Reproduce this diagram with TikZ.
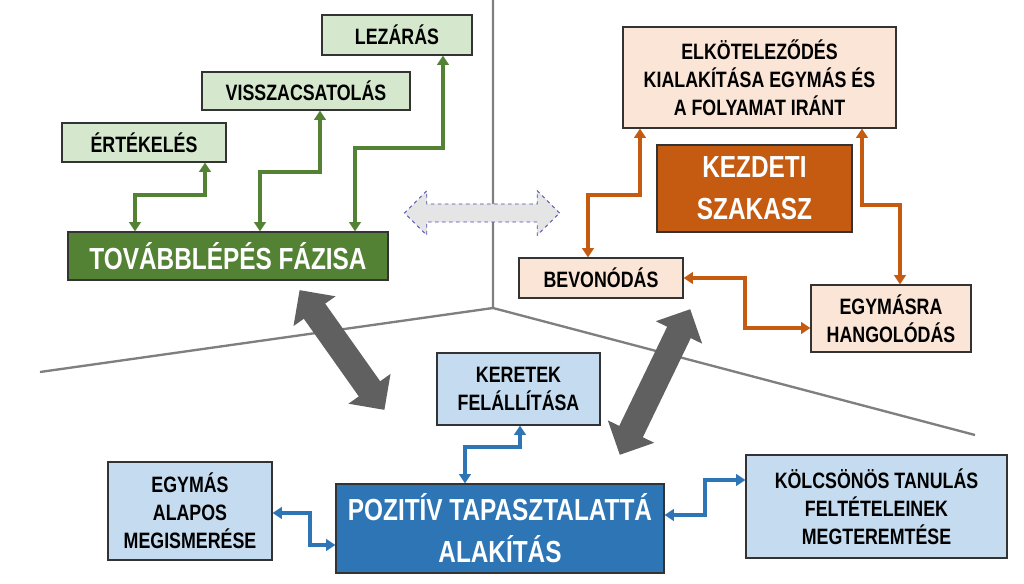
\documentclass[tikz,border=0pt]{standalone}
\usepackage{fontspec}
\setmainfont{Liberation Sans}[FakeStretch=0.8]
\usetikzlibrary{arrows.meta,shapes.arrows}
\definecolor{lgreen}{HTML}{D5E8CD}
\definecolor{dgreen}{HTML}{548235}
\definecolor{lpeach}{HTML}{FBE5D6}
\definecolor{dorange}{HTML}{C55A11}
\definecolor{lblue}{HTML}{C5DCF0}
\definecolor{dblue}{HTML}{2E75B6}
\definecolor{linegray}{HTML}{7F7F7F}
\begin{document}
\begin{tikzpicture}[
      x=0.03cm, y=-0.03cm,
      base/.style={draw=black!80,line width=1pt,align=center,inner sep=2pt,
                   font=\fontsize{19}{24}\selectfont\bfseries},
      gbox/.style={base,fill=lgreen},
      obox/.style={base,fill=lpeach},
      bbox/.style={base,fill=lblue},
      hbox/.style={base,text=white,font=\fontsize{26}{36}\selectfont\bfseries},
      conn/.style={line width=3pt,{Triangle[length=8pt,width=10pt]}-{Triangle[length=8pt,width=10pt]}},
      garr/.style={conn,dgreen},
      oarr/.style={conn,dorange},
      barr/.style={conn,dblue},
      bigarrow/.style={double arrow,fill=gray!75!black,draw=none,minimum width=44pt,
                       double arrow head extend=6pt,inner sep=6pt}
    ]
    \useasboundingbox (0,0) rectangle (1024,584);

    % dividing lines
    \coordinate (mid) at (493,308);
    \draw[linegray,line width=2pt] (493,0) -- (mid) -- (40,372);
    \draw[linegray,line width=2pt] (mid) -- (975,435);

    % moving on phase
    \node[gbox,minimum width=4.5cm,minimum height=1.2cm] (lez) at (397,35) {LEZÁRÁS};
    \node[gbox,minimum width=6.24cm,minimum height=1.14cm] (vissza) at (306,91) {VISSZACSATOLÁS};
    \node[gbox,minimum width=4.92cm,minimum height=1.17cm] (ert) at (144,142.5) {ÉRTÉKELÉS};
    \node[hbox,fill=dgreen,minimum width=9.6cm,minimum height=1.44cm] (tov) at (228,256) {TOVÁBBLÉPÉS FÁZISA};

    \draw[garr] (tov.north-|135,0) |- (205,195) -- (ert.south-|205,0);
    \draw[garr] (tov.north-|260,0) |- (320,172) -- (vissza.south-|320,0);
    \draw[garr] (tov.north-|355,0) |- (443,148) -- (lez.south-|443,0);

    % initial phase
    \node[obox,minimum width=8.19cm,minimum height=3.03cm] (elk) at (759.5,77.5)
          {ELKÖTELEZŐDÉS\\KIALAKÍTÁSA EGYMÁS ÉS\\A FOLYAMAT IRÁNT};
    \node[hbox,fill=dorange,minimum width=5.85cm,minimum height=2.61cm] (kezd) at (754.5,188.5)
          {KEZDETI\\SZAKASZ};
    \node[obox,minimum width=4.92cm,minimum height=1.2cm] (bev) at (601,278) {BEVONÓDÁS};
    \node[obox,minimum width=4.8cm,minimum height=2.01cm] (hang) at (891,318.5)
          {EGYMÁSRA\\HANGOLÓDÁS};

    \draw[oarr] (bev.north-|588,0) |- (640,195) -- (elk.south-|640,0);
    \draw[oarr] (elk.south-|862,0) |- (900,205) -- (hang.north-|900,0);
    \draw[oarr] (bev.east) -| (745,328) -- (hang.west|-745,328);

    % positive experience
    \node[bbox,minimum width=4.89cm,minimum height=2.16cm] (ker) at (518.5,389)
          {KERETEK\\FELÁLLÍTÁSA};
    \node[hbox,fill=dblue,minimum width=9.84cm,minimum height=2.67cm] (poz) at (500,528.5)
          {POZITÍV TAPASZTALATTÁ\\ALAKÍTÁS};
    \node[bbox,minimum width=4.92cm,minimum height=2.94cm] (megism) at (190,511)
          {EGYMÁS\\ALAPOS\\MEGISMERÉSE};
    \node[bbox,minimum width=7.83cm,minimum height=3.09cm] (kolcs) at (876.5,506.5)
          {KÖLCSÖNÖS TANULÁS\\FELTÉTELEINEK\\MEGTEREMTÉSE};

    \draw[barr] (ker.south-|520,0) |- (465,447) -- (poz.north-|465,0);
    \draw[barr] (megism.east|-0,513) -| (310,545) -- (poz.west|-0,545);
    \draw[barr] (poz.east|-0,515) -| (705,480) -- (kolcs.west|-0,480);

    % transitions between phases
    \node[double arrow,fill=gray!20,draw=blue!40!gray,dashed,line width=0.8pt,
          minimum width=38pt,double arrow head extend=5pt,minimum height=4.65cm,
          inner sep=3pt] (trans) at (482,213) {};
    \node[bigarrow,minimum height=4.4cm,rotate=-54.7] (ttov) at (342,350) {};
    \node[bigarrow,minimum height=4.85cm,rotate=-115.8] (tkezd) at (655,382) {};
  \end{tikzpicture}
\end{document}
